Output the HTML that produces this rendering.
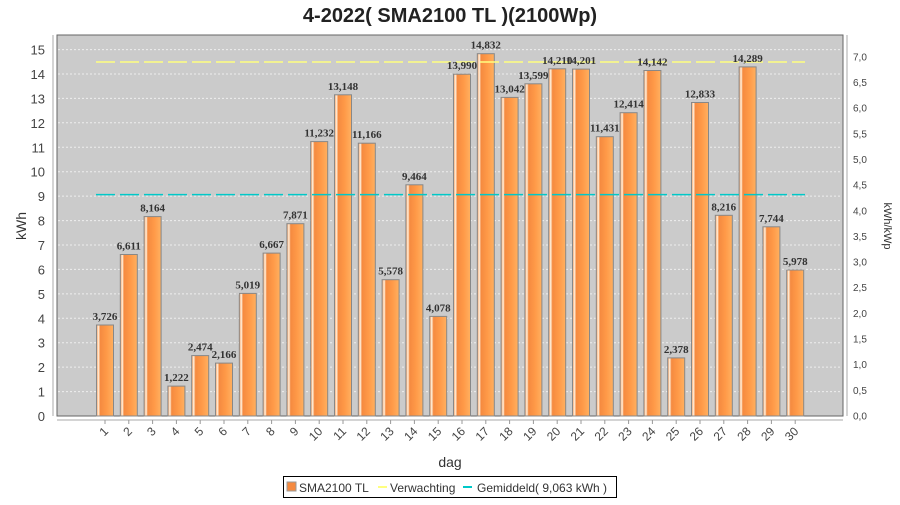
<!DOCTYPE html>
<html><head><meta charset="utf-8"><style>
body{margin:0;background:#fff;}
svg text{font-family:"Liberation Sans",sans-serif;}
.t{font-size:13px;fill:#444;}
svg .v text{font-family:"Liberation Serif",serif;font-size:11px;font-weight:bold;fill:#333;text-anchor:middle;}
.r{font-size:10px;fill:#444;}
</style></head><body>
<svg width="900" height="500" xmlns="http://www.w3.org/2000/svg">
<defs>
<linearGradient id="g" x1="0" x2="1" y1="0" y2="0">
<stop offset="0" stop-color="#f79a5a"/><stop offset="0.12" stop-color="#fff2e0"/><stop offset="0.22" stop-color="#f58a40"/><stop offset="0.6" stop-color="#ff9a48"/><stop offset="1" stop-color="#ffb060"/>
</linearGradient>
</defs>
<text x="450" y="22" text-anchor="middle" style="font-size:20px;font-weight:bold;fill:#222">4-2022( SMA2100 TL )(2100Wp)</text>
<rect x="57" y="35" width="786" height="381" fill="#cbcbcb" stroke="#666" stroke-width="1"/>
<g stroke="#eee" stroke-dasharray="2,2" stroke-width="1">
<line x1="58" x2="842" y1="391.6" y2="391.6"/><line x1="58" x2="842" y1="367.1" y2="367.1"/><line x1="58" x2="842" y1="342.7" y2="342.7"/><line x1="58" x2="842" y1="318.3" y2="318.3"/><line x1="58" x2="842" y1="293.9" y2="293.9"/><line x1="58" x2="842" y1="269.4" y2="269.4"/><line x1="58" x2="842" y1="245" y2="245"/><line x1="58" x2="842" y1="220.6" y2="220.6"/><line x1="58" x2="842" y1="196.1" y2="196.1"/><line x1="58" x2="842" y1="171.7" y2="171.7"/><line x1="58" x2="842" y1="147.3" y2="147.3"/><line x1="58" x2="842" y1="122.8" y2="122.8"/><line x1="58" x2="842" y1="98.4" y2="98.4"/><line x1="58" x2="842" y1="74" y2="74"/><line x1="58" x2="842" y1="49.6" y2="49.6"/>
</g>
<line x1="53" x2="53" y1="35" y2="416" stroke="#aaa"/>
<g class="t" text-anchor="end">
<text x="45" y="421">0</text><text x="45" y="396.6">1</text><text x="45" y="372.1">2</text><text x="45" y="347.7">3</text><text x="45" y="323.3">4</text><text x="45" y="298.9">5</text><text x="45" y="274.4">6</text><text x="45" y="250">7</text><text x="45" y="225.6">8</text><text x="45" y="201.1">9</text><text x="45" y="176.7">10</text><text x="45" y="152.3">11</text><text x="45" y="127.8">12</text><text x="45" y="103.4">13</text><text x="45" y="79">14</text><text x="45" y="54.6">15</text>
</g>
<text transform="translate(26,226) rotate(-90)" text-anchor="middle" style="font-size:14px;fill:#333">kWh</text>
<line x1="847" x2="847" y1="35" y2="416" stroke="#aaa"/>
<g class="r">
<text x="853" y="419.5">0,0</text><text x="853" y="393.8">0,5</text><text x="853" y="368.2">1,0</text><text x="853" y="342.5">1,5</text><text x="853" y="316.9">2,0</text><text x="853" y="291.2">2,5</text><text x="853" y="265.6">3,0</text><text x="853" y="239.9">3,5</text><text x="853" y="214.3">4,0</text><text x="853" y="188.6">4,5</text><text x="853" y="163">5,0</text><text x="853" y="137.3">5,5</text><text x="853" y="111.7">6,0</text><text x="853" y="86">6,5</text><text x="853" y="60.4">7,0</text>
</g>
<text transform="translate(884,226) rotate(90)" text-anchor="middle" style="font-size:11px;fill:#333">kWh/kWp</text>
<g fill="url(#g)" stroke="#888" stroke-width="1">
<rect x="96.5" y="325" width="17" height="91"/>
<rect x="120.3" y="254.5" width="17" height="161.5"/>
<rect x="144.1" y="216.6" width="17" height="199.4"/>
<rect x="167.9" y="386.1" width="17" height="29.9"/>
<rect x="191.7" y="355.6" width="17" height="60.4"/>
<rect x="215.5" y="363.1" width="17" height="52.9"/>
<rect x="239.3" y="293.4" width="17" height="122.6"/>
<rect x="263.1" y="253.1" width="17" height="162.9"/>
<rect x="286.9" y="223.7" width="17" height="192.3"/>
<rect x="310.7" y="141.6" width="17" height="274.4"/>
<rect x="334.5" y="94.8" width="17" height="321.2"/>
<rect x="358.3" y="143.2" width="17" height="272.8"/>
<rect x="382.1" y="279.7" width="17" height="136.3"/>
<rect x="405.9" y="184.8" width="17" height="231.2"/>
<rect x="429.7" y="316.4" width="17" height="99.6"/>
<rect x="453.5" y="74.2" width="17" height="341.8"/>
<rect x="477.3" y="53.7" width="17" height="362.3"/>
<rect x="501.1" y="97.4" width="17" height="318.6"/>
<rect x="524.9" y="83.8" width="17" height="332.2"/>
<rect x="548.7" y="68.8" width="17" height="347.2"/>
<rect x="572.5" y="69.1" width="17" height="346.9"/>
<rect x="596.3" y="136.7" width="17" height="279.3"/>
<rect x="620.1" y="112.7" width="17" height="303.3"/>
<rect x="643.9" y="70.5" width="17" height="345.5"/>
<rect x="667.7" y="357.9" width="17" height="58.1"/>
<rect x="691.5" y="102.5" width="17" height="313.5"/>
<rect x="715.3" y="215.3" width="17" height="200.7"/>
<rect x="739.1" y="66.9" width="17" height="349.1"/>
<rect x="762.9" y="226.8" width="17" height="189.2"/>
<rect x="786.7" y="270" width="17" height="146"/>
</g>
<line x1="96" x2="805" y1="62" y2="62" stroke="#ffff80" stroke-width="1.5" stroke-dasharray="19,5"/>
<line x1="96" x2="805" y1="194.6" y2="194.6" stroke="#00c8c8" stroke-width="1.5" stroke-dasharray="19,5"/>
<g class="v">
<text x="105" y="320">3,726</text><text x="128.8" y="249.5">6,611</text><text x="152.6" y="211.6">8,164</text><text x="176.4" y="381.1">1,222</text><text x="200.2" y="350.6">2,474</text><text x="224" y="358.1">2,166</text><text x="247.8" y="288.4">5,019</text><text x="271.6" y="248.1">6,667</text><text x="295.4" y="218.7">7,871</text><text x="319.2" y="136.6">11,232</text><text x="343" y="89.8">13,148</text><text x="366.8" y="138.2">11,166</text><text x="390.6" y="274.7">5,578</text><text x="414.4" y="179.8">9,464</text><text x="438.2" y="311.4">4,078</text><text x="462" y="69.2">13,990</text><text x="485.8" y="48.7">14,832</text><text x="509.6" y="92.4">13,042</text><text x="533.4" y="78.8">13,599</text><text x="557.2" y="63.8">14,210</text><text x="581" y="64.1">14,201</text><text x="604.8" y="131.7">11,431</text><text x="628.6" y="107.7">12,414</text><text x="652.4" y="65.5">14,142</text><text x="676.2" y="352.9">2,378</text><text x="700" y="97.5">12,833</text><text x="723.8" y="210.3">8,216</text><text x="747.6" y="61.9">14,289</text><text x="771.4" y="221.8">7,744</text><text x="795.2" y="265">5,978</text>
</g>
<line x1="57" x2="843" y1="420" y2="420" stroke="#aaa"/>
<g stroke="#999">
<line x1="105" x2="105" y1="420" y2="424"/><line x1="128.8" x2="128.8" y1="420" y2="424"/><line x1="152.6" x2="152.6" y1="420" y2="424"/><line x1="176.4" x2="176.4" y1="420" y2="424"/><line x1="200.2" x2="200.2" y1="420" y2="424"/><line x1="224" x2="224" y1="420" y2="424"/><line x1="247.8" x2="247.8" y1="420" y2="424"/><line x1="271.6" x2="271.6" y1="420" y2="424"/><line x1="295.4" x2="295.4" y1="420" y2="424"/><line x1="319.2" x2="319.2" y1="420" y2="424"/><line x1="343" x2="343" y1="420" y2="424"/><line x1="366.8" x2="366.8" y1="420" y2="424"/><line x1="390.6" x2="390.6" y1="420" y2="424"/><line x1="414.4" x2="414.4" y1="420" y2="424"/><line x1="438.2" x2="438.2" y1="420" y2="424"/><line x1="462" x2="462" y1="420" y2="424"/><line x1="485.8" x2="485.8" y1="420" y2="424"/><line x1="509.6" x2="509.6" y1="420" y2="424"/><line x1="533.4" x2="533.4" y1="420" y2="424"/><line x1="557.2" x2="557.2" y1="420" y2="424"/><line x1="581" x2="581" y1="420" y2="424"/><line x1="604.8" x2="604.8" y1="420" y2="424"/><line x1="628.6" x2="628.6" y1="420" y2="424"/><line x1="652.4" x2="652.4" y1="420" y2="424"/><line x1="676.2" x2="676.2" y1="420" y2="424"/><line x1="700" x2="700" y1="420" y2="424"/><line x1="723.8" x2="723.8" y1="420" y2="424"/><line x1="747.6" x2="747.6" y1="420" y2="424"/><line x1="771.4" x2="771.4" y1="420" y2="424"/><line x1="795.2" x2="795.2" y1="420" y2="424"/>
</g>
<g style="font-size:12px;fill:#444" text-anchor="end">
<text transform="translate(109,432) rotate(-45)">1</text><text transform="translate(132.8,432) rotate(-45)">2</text><text transform="translate(156.6,432) rotate(-45)">3</text><text transform="translate(180.4,432) rotate(-45)">4</text><text transform="translate(204.2,432) rotate(-45)">5</text><text transform="translate(228,432) rotate(-45)">6</text><text transform="translate(251.8,432) rotate(-45)">7</text><text transform="translate(275.6,432) rotate(-45)">8</text><text transform="translate(299.4,432) rotate(-45)">9</text><text transform="translate(323.2,432) rotate(-45)">10</text><text transform="translate(347,432) rotate(-45)">11</text><text transform="translate(370.8,432) rotate(-45)">12</text><text transform="translate(394.6,432) rotate(-45)">13</text><text transform="translate(418.4,432) rotate(-45)">14</text><text transform="translate(442.2,432) rotate(-45)">15</text><text transform="translate(466,432) rotate(-45)">16</text><text transform="translate(489.8,432) rotate(-45)">17</text><text transform="translate(513.6,432) rotate(-45)">18</text><text transform="translate(537.4,432) rotate(-45)">19</text><text transform="translate(561.2,432) rotate(-45)">20</text><text transform="translate(585,432) rotate(-45)">21</text><text transform="translate(608.8,432) rotate(-45)">22</text><text transform="translate(632.6,432) rotate(-45)">23</text><text transform="translate(656.4,432) rotate(-45)">24</text><text transform="translate(680.2,432) rotate(-45)">25</text><text transform="translate(704,432) rotate(-45)">26</text><text transform="translate(727.8,432) rotate(-45)">27</text><text transform="translate(751.6,432) rotate(-45)">28</text><text transform="translate(775.4,432) rotate(-45)">29</text><text transform="translate(799.2,432) rotate(-45)">30</text>
</g>
<text x="450" y="467" text-anchor="middle" style="font-size:14px;fill:#333">dag</text>
<rect x="283.5" y="476.5" width="333" height="21" fill="#fff" stroke="#000"/>
<rect x="287" y="482" width="9" height="9" fill="#f58a40" stroke="#999"/>
<text x="299" y="492" style="font-size:12px;fill:#333">SMA2100 TL</text>
<line x1="378" x2="387" y1="487" y2="487" stroke="#ffff80" stroke-width="2"/>
<text x="390" y="492" style="font-size:12px;fill:#333">Verwachting</text>
<line x1="463" x2="472" y1="487" y2="487" stroke="#00c8c8" stroke-width="2"/>
<text x="477" y="492" style="font-size:12px;fill:#333">Gemiddeld( 9,063 kWh )</text>
</svg>
</body></html>
